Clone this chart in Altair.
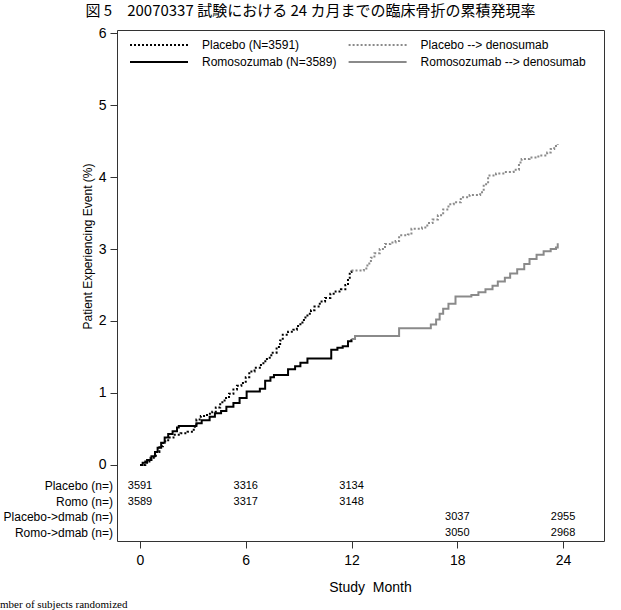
import altair as alt
import pandas as pd

# ---------------- data ----------------
# legend order: the 2-column legend fills column by column
series_names = ["Placebo (N=3591)", "Romosozumab (N=3589)",
                "Placebo --> denosumab", "Romosozumab --> denosumab"]

placebo_month = [0, 0.3, 0.6, 0.9, 1.1, 1.3, 1.6, 1.9, 2.3, 2.7, 3.05, 3.2, 3.45, 3.8,
                 4.1, 4.3, 4.55, 4.8, 5.05, 5.3, 5.5, 5.75, 6.0, 6.2, 6.5, 6.8, 7.0, 7.2,
                 7.45, 7.75, 7.95, 8.1, 8.4, 8.7, 8.9, 9.1, 9.3, 9.5, 9.7, 9.9, 10.2, 10.5,
                 10.8, 11.1, 11.4, 11.65, 11.8, 11.9, 12.0]
placebo_pct = [0, 0.05, 0.1, 0.18, 0.26, 0.33, 0.38, 0.42, 0.44, 0.46, 0.53, 0.63, 0.68, 0.71,
               0.74, 0.8, 0.87, 0.93, 0.99, 1.05, 1.1, 1.14, 1.22, 1.3, 1.35, 1.39, 1.44, 1.49,
               1.56, 1.64, 1.73, 1.81, 1.85, 1.88, 1.93, 1.98, 2.05, 2.1, 2.15, 2.2, 2.27, 2.32,
               2.38, 2.41, 2.44, 2.5, 2.6, 2.68, 2.7]

pl_dmab_month = [12.0, 12.7, 12.9, 13.1, 13.3, 13.6, 13.9, 14.2, 14.5, 14.7, 15.2, 15.4, 16.0,
                 16.3, 16.6, 16.9, 17.2, 17.5, 17.8, 18.2, 18.7, 19.3, 19.5, 19.75, 20.2, 20.7,
                 21.2, 21.5, 21.65, 22.1, 22.6, 23.1, 23.3, 23.5, 23.7]
pl_dmab_pct = [2.7, 2.73, 2.8, 2.88, 2.94, 3.0, 3.07, 3.09, 3.11, 3.19, 3.2, 3.28, 3.3,
               3.36, 3.41, 3.47, 3.55, 3.62, 3.65, 3.72, 3.75, 3.79, 3.9, 4.02, 4.05, 4.07,
               4.1, 4.2, 4.25, 4.27, 4.3, 4.34, 4.39, 4.43, 4.46]

romo_month = [0, 0.15, 0.4, 0.65, 0.85, 1.0, 1.2, 1.4, 1.6, 1.85, 2.1, 2.2, 3.2, 3.5, 3.95,
              4.25, 4.6, 4.9, 5.3, 5.65, 6.05, 6.8, 7.1, 7.4, 7.6, 8.4, 8.8, 9.1, 9.5, 10.85,
              11.2, 11.5, 11.8, 12.0]
romo_pct = [0, 0.03, 0.07, 0.12, 0.18, 0.24, 0.31, 0.38, 0.43, 0.47, 0.52, 0.54, 0.58, 0.62, 0.67,
            0.72, 0.75, 0.81, 0.86, 0.93, 1.02, 1.06, 1.17, 1.22, 1.25, 1.33, 1.37, 1.42, 1.48, 1.6,
            1.63, 1.65, 1.72, 1.75]

ro_dmab_month = [12.0, 12.2, 14.7, 16.5, 16.8, 17.0, 17.2, 17.5, 17.9, 18.8, 19.2, 19.6, 20.0,
                 20.3, 20.7, 21.0, 21.4, 21.8, 22.1, 22.5, 22.9, 23.3, 23.6, 23.7]
ro_dmab_pct = [1.75, 1.79, 1.9, 1.95, 2.02, 2.1, 2.17, 2.24, 2.34, 2.36, 2.4, 2.44, 2.49,
               2.55, 2.6, 2.66, 2.72, 2.79, 2.86, 2.92, 2.97, 3.0, 3.02, 3.08]

risk_rows = ["Placebo (n=)", "Romo (n=)", "Placebo->dmab (n=)", "Romo->dmab (n=)"]
risk_months = [0, 6, 12, 18, 24]
risk_placebo = [3591, 3316, 3134, None, None]
risk_romo = [3589, 3317, 3148, None, None]
risk_pl_dmab = [None, None, None, 3037, 2955]
risk_ro_dmab = [None, None, None, 3050, 2968]

y_ticks = [0, 1, 2, 3, 4, 5, 6]
x_ticks = [0, 6, 12, 18, 24]

title_text = "図 5\u300020070337 試験における 24 カ月までの臨床骨折の累積発現率"
footnote_text = ["Number of subjects randomized"]

# ---------------- tables ----------------
frames = []
for name, ms, vs in zip(series_names,
                        [placebo_month, romo_month, pl_dmab_month, ro_dmab_month],
                        [placebo_pct, romo_pct, pl_dmab_pct, ro_dmab_pct]):
    frames.append(pd.DataFrame({"month": ms, "pct": vs, "series": name}))
lines_df = pd.concat(frames, ignore_index=True)

risk_records = []
for row, counts in zip(risk_rows, [risk_placebo, risk_romo, risk_pl_dmab, risk_ro_dmab]):
    for m, n in zip(risk_months, counts):
        if n is not None:
            risk_records.append({"row": row, "month": m, "n": str(n)})
risk_df = pd.DataFrame(risk_records)
row_df = pd.DataFrame({"row": risk_rows})
foot_df = pd.DataFrame({"t": footnote_text})

# ---------------- styling ----------------
FONT = "Liberation Sans"
X_DOMAIN = [-1.305, 26.325]
Y_DOMAIN = [-1.056, 6.042]

x_axis = alt.Axis(values=x_ticks, title="Study \u00a0Month", titleFont=FONT, titleFontSize=14,
                  titleFontWeight="normal", titleColor="black", titlePadding=13, titleX=253,
                  labelFont=FONT, labelFontSize=14, labelColor="black", labelPadding=5,
                  tickSize=7, tickColor="#333333", domain=False, grid=False, labelFlush=False)
x_scale = alt.Scale(domain=X_DOMAIN, nice=False, zero=False)

legend = alt.Legend(title=None, orient="none", legendX=12, legendY=6.5, columns=2,
                    symbolType="stroke", symbolSize=3364, symbolStrokeWidth=2,
                    clipHeight=17, labelFont=FONT, labelFontSize=12, labelColor="black",
                    labelOffset=13, labelLimit=400, columnPadding=10.6, rowPadding=0,
                    padding=0)

lines = alt.Chart(lines_df).mark_line(interpolate="step-after", strokeWidth=2).encode(
    x=alt.X("month:Q", scale=x_scale, axis=x_axis),
    y=alt.Y("pct:Q", scale=alt.Scale(domain=Y_DOMAIN, nice=False, zero=False),
            axis=alt.Axis(values=y_ticks, title="Patient Experiencing Event (%)",
                          titleFont=FONT, titleFontSize=12, titleFontWeight="normal",
                          titleColor="black", titleX=-30, titleY=216, titleAngle=270,
                          titleBaseline="middle", titleAlign="center",
                          labelFont=FONT, labelFontSize=14, labelColor="black",
                          labelPadding=4, tickSize=7, tickColor="#333333",
                          domain=False, grid=False)),
    color=alt.Color("series:N", scale=alt.Scale(domain=series_names,
                    range=["#000000", "#000000", "#8a8a8a", "#8a8a8a"]), legend=legend),
    strokeDash=alt.StrokeDash("series:N", scale=alt.Scale(domain=series_names,
                              range=[[2, 2], [1, 0], [2, 2], [1, 0]]), legend=legend),
)

row_scale = alt.Scale(type="point", domain=risk_rows, range=[456, 502.5], padding=0)

row_labels = alt.Chart(row_df).mark_text(align="right", baseline="middle", font=FONT,
                                          fontSize=12, color="black").encode(
    x=alt.value(-4),
    y=alt.Y("row:N", scale=row_scale, axis=None),
    text="row:N",
)
numbers = alt.Chart(risk_df).mark_text(align="center", baseline="middle", font=FONT,
                                        fontSize=11, color="black").encode(
    x=alt.X("month:Q", scale=x_scale, axis=x_axis),
    y=alt.Y("row:N", scale=row_scale, axis=None),
    text="n:N",
)
table = alt.layer(row_labels, numbers)

footnote = alt.Chart(foot_df).mark_text(align="left", baseline="alphabetic",
                                         font="Liberation Serif", fontSize=11,
                                         color="black").encode(
    x=alt.value(-130.4), y=alt.value(578), text="t:N")

chart = alt.layer(lines, table, footnote).resolve_scale(y="independent").properties(
    width=487, height=511,
    padding={"left": 117, "top": 30, "right": 17, "bottom": 69},
    autosize=alt.AutoSizeParams(type="none"),
    title=alt.TitleParams(text=title_text, font="Noto Sans CJK JP", fontSize=15,
                          fontWeight="normal", color="black", anchor="middle",
                          dx=-50, offset=7),
    background="white",
).configure_view(stroke="#333333", strokeWidth=1)

chart.save("out.html", embed_options={"renderer": "svg", "actions": False})
